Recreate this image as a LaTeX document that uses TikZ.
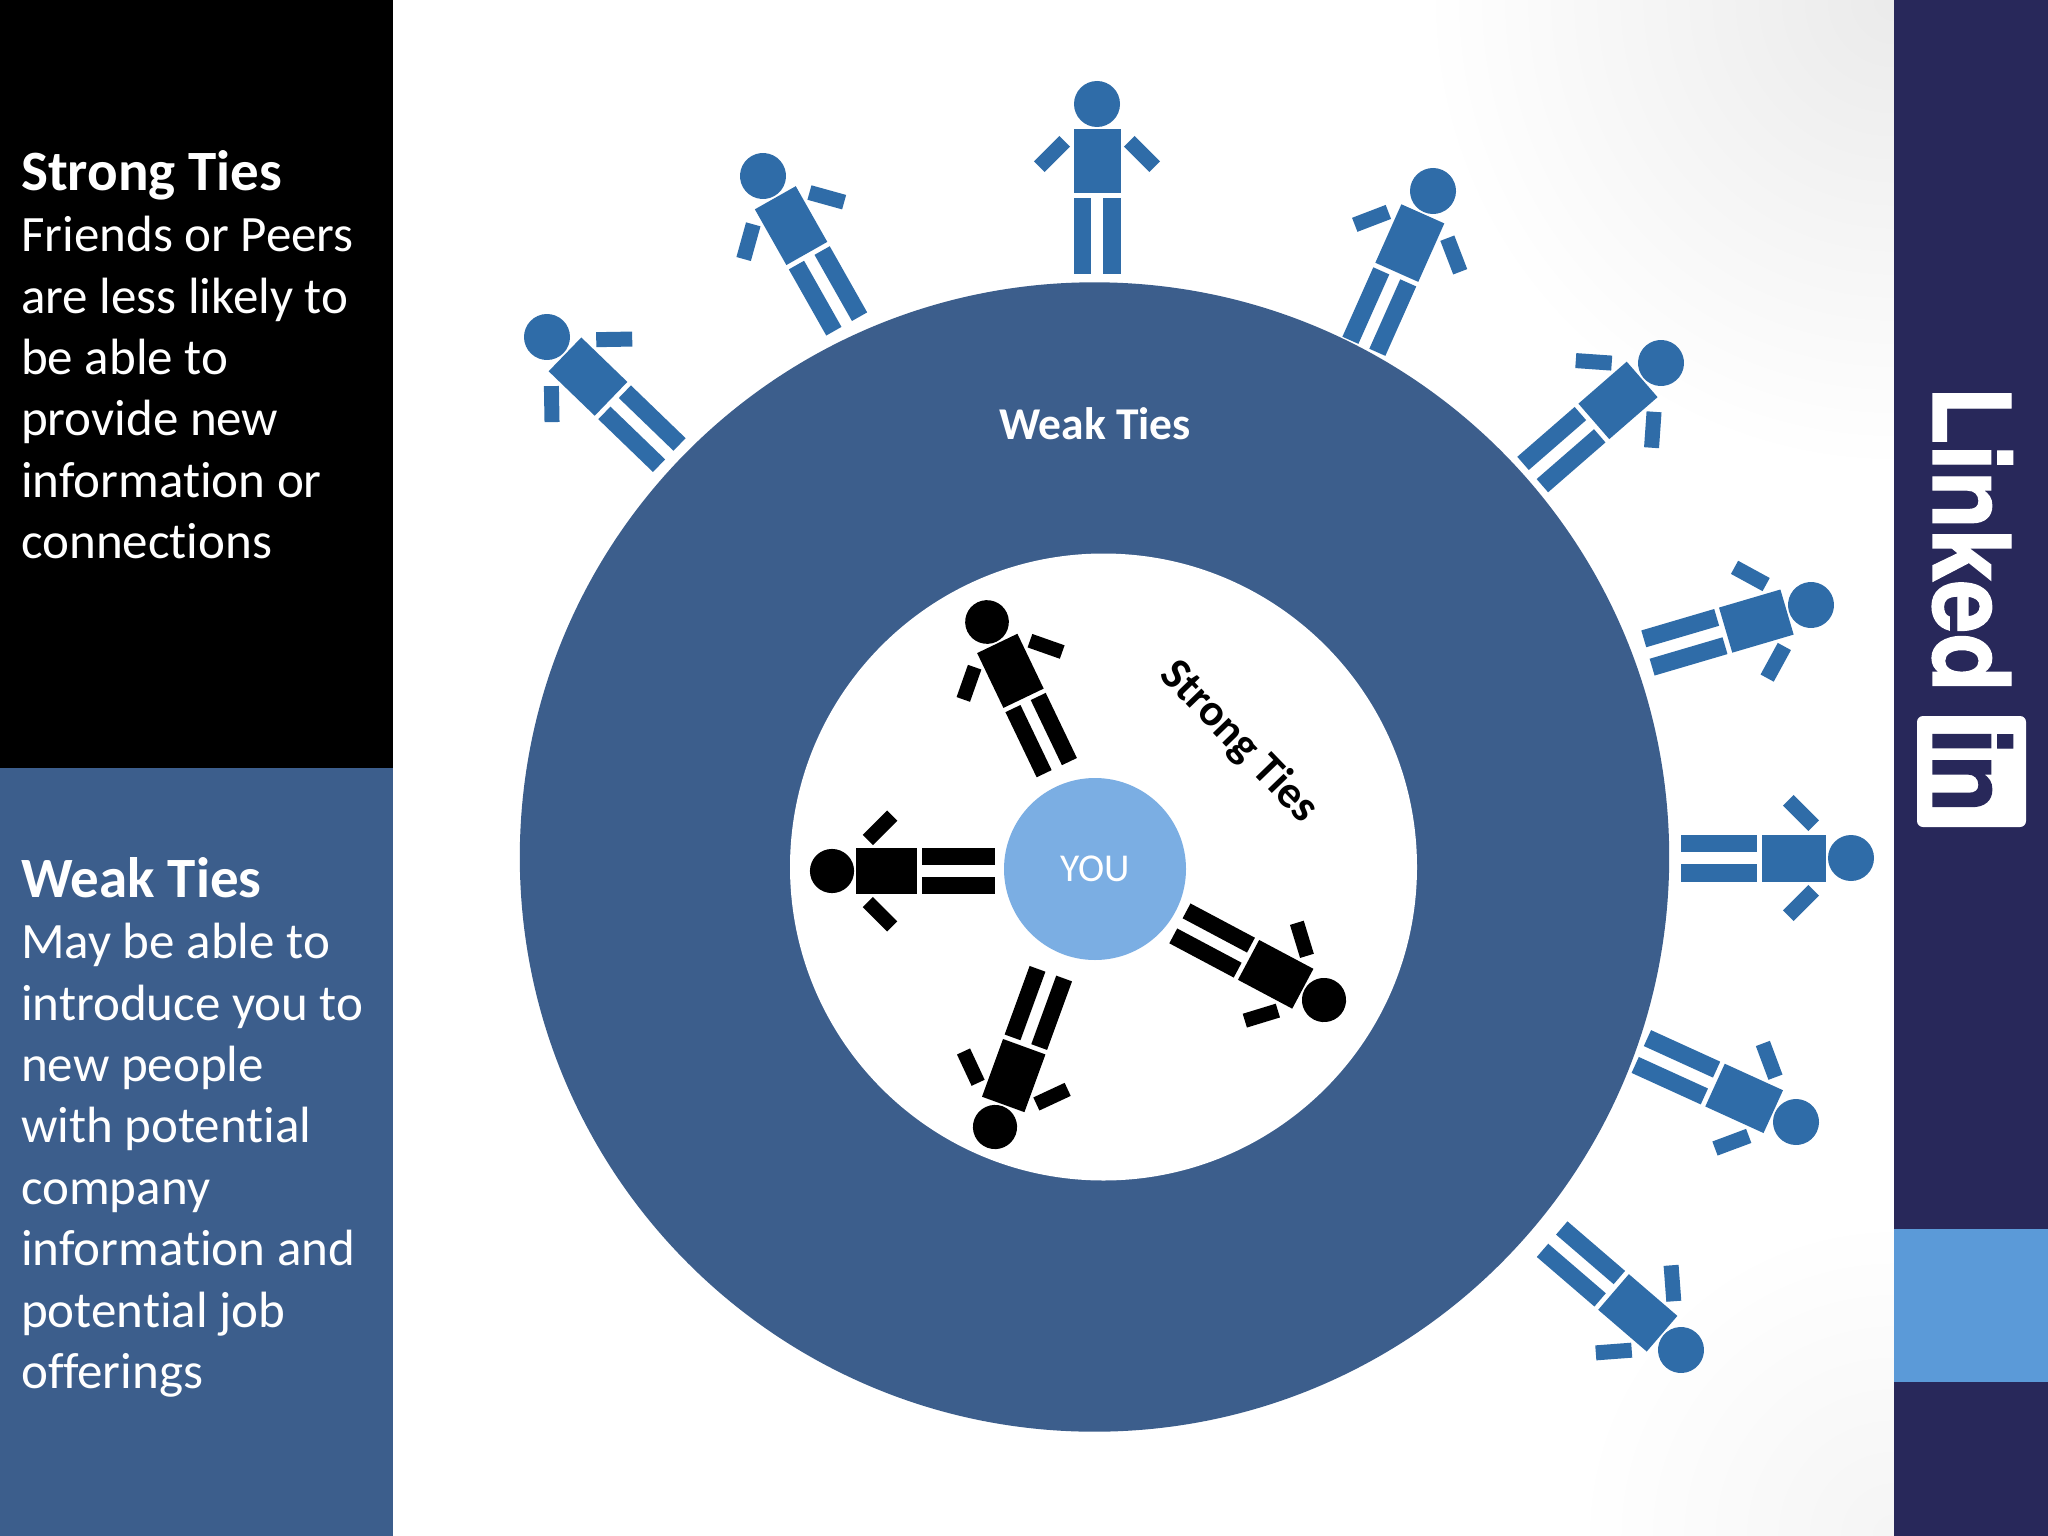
\documentclass[tikz,border=0pt]{standalone}
\usepackage{fontspec}
\setmainfont[Ligatures=NoCommon]{Carlito}
\newfontfamily\logofont[BoldFeatures={FakeBold=1.2}]{TeX Gyre Heros}
\definecolor{navy}{HTML}{28285A}
\definecolor{panelblue}{HTML}{3C5E8C}
\definecolor{ringblue}{HTML}{3C5E8C}
\definecolor{figblue}{HTML}{2F6CA8}
\definecolor{youblue}{HTML}{7BAEE3}
\definecolor{blockblue}{HTML}{5B9AD8}
\tikzset{
  panel/.style={fill=#1,draw=none},
  paneltext/.style={anchor=north west,align=left,text=white,inner sep=0pt,font=\fontsize{51}{61.4}\selectfont},
  disc/.style={circle,draw=none,inner sep=0pt,minimum size=#1},
}
% head x, head y, rotation, scale, colour
\newcommand{\person}[5]{%
  \begin{scope}[shift={(#1,#2)},rotate=#3,scale=#4,fill=#5,draw=none]
    \fill[#5] (0,0) circle[radius=23];
    \fill[#5] (-23.5,25) rectangle (23.5,89);
    \fill[#5] (-23.5,94) rectangle (-6,170);
    \fill[#5] (6,94) rectangle (23.5,170);
    \fill[#5,rotate around={-45:(-45,50)}] (-7.5,32)++(-45,0) rectangle ++(15,36);
    \fill[#5,rotate around={45:(45,50)}] (37.5,32) rectangle ++(15,36);
  \end{scope}}
\begin{document}
\begin{tikzpicture}[x=1pt,y=-1pt]
\useasboundingbox (0,0) rectangle (2048,1536);
\fill[white] (0,0) rectangle (2048,1536);
\begin{scope}
  \clip (393,0) rectangle (1894,1536);
  \shade[inner color=black!8,outer color=white] (1894,0) circle[radius=470];
  \shade[inner color=black!4,outer color=white] (1894,1536) circle[radius=320];
\end{scope}
\fill[panel=black] (0,0) rectangle (393,768);
\fill[panel=panelblue] (0,768) rectangle (393,1536);
\fill[panel=navy] (1894,0) rectangle (2048,1536);
\fill[panel=blockblue] (1894,1229) rectangle (2048,1382);
\node[paneltext] (strongtext) at (21,150) {{\bfseries\fontsize{57}{61.4}\selectfont Strong Ties}\\Friends or Peers\\are less likely to\\be able to\\provide new\\information or\\connections};
\node[paneltext] (weaktext) at (21,857) {{\bfseries\fontsize{57}{61.4}\selectfont Weak Ties}\\May be able to\\introduce you to\\new people\\with potential\\company\\information and\\potential job\\offerings};
\person{547}{337}{46}{1}{figblue}
\person{763}{176}{29.5}{1}{figblue}
\person{1097}{104}{0}{1}{figblue}
\person{1433}{191}{-24}{1}{figblue}
\person{1661}{363}{-49}{1}{figblue}
\person{1811}{605}{-73.6}{1}{figblue}
\person{1851}{858}{-90}{1}{figblue}
\person{1796}{1122}{-114.5}{1}{figblue}
\person{1681}{1350}{-130.7}{1}{figblue}
\node[disc=1149.4pt,fill=ringblue] (weakring) at (1094.5,857) {};
\node[disc=627pt,fill=white] (strongring) at (1103.5,867) {};
\node[font=\bfseries\fontsize{45.5}{45.5}\selectfont,text=white] (weaklabel) at (1095,424) {Weak Ties};
\node[font=\bfseries\fontsize{45}{45}\selectfont,text=black,rotate=-46] (stronglabel) at (1239,742) {Strong Ties};
\person{987}{622}{25.6}{0.95}{black}
\person{832}{871}{90}{0.96}{black}
\person{995}{1127}{160}{0.96}{black}
\person{1324}{1000}{-118}{0.96}{black}
\node[disc=182pt,fill=youblue] (you) at (1095,869) {};
\node[text=white,font=\fontsize{39.5}{39.5}\selectfont] (youlabel) at (you) {YOU};
\node[rotate=-90,anchor=base west,inner sep=0pt,xscale=.89,text=white,font=\logofont\bfseries\fontsize{107}{107}\selectfont] (linked) at (1933,386) {Linked};
\draw[fill=white,draw=none,rounded corners=6pt] (1917,716) rectangle (2026,827);
\node[rotate=-90,anchor=base west,inner sep=0pt,xscale=.89,text=navy,font=\logofont\bfseries\fontsize{107}{107}\selectfont] (inlabel) at (1933,728) {in};
\end{tikzpicture}
\end{document}
